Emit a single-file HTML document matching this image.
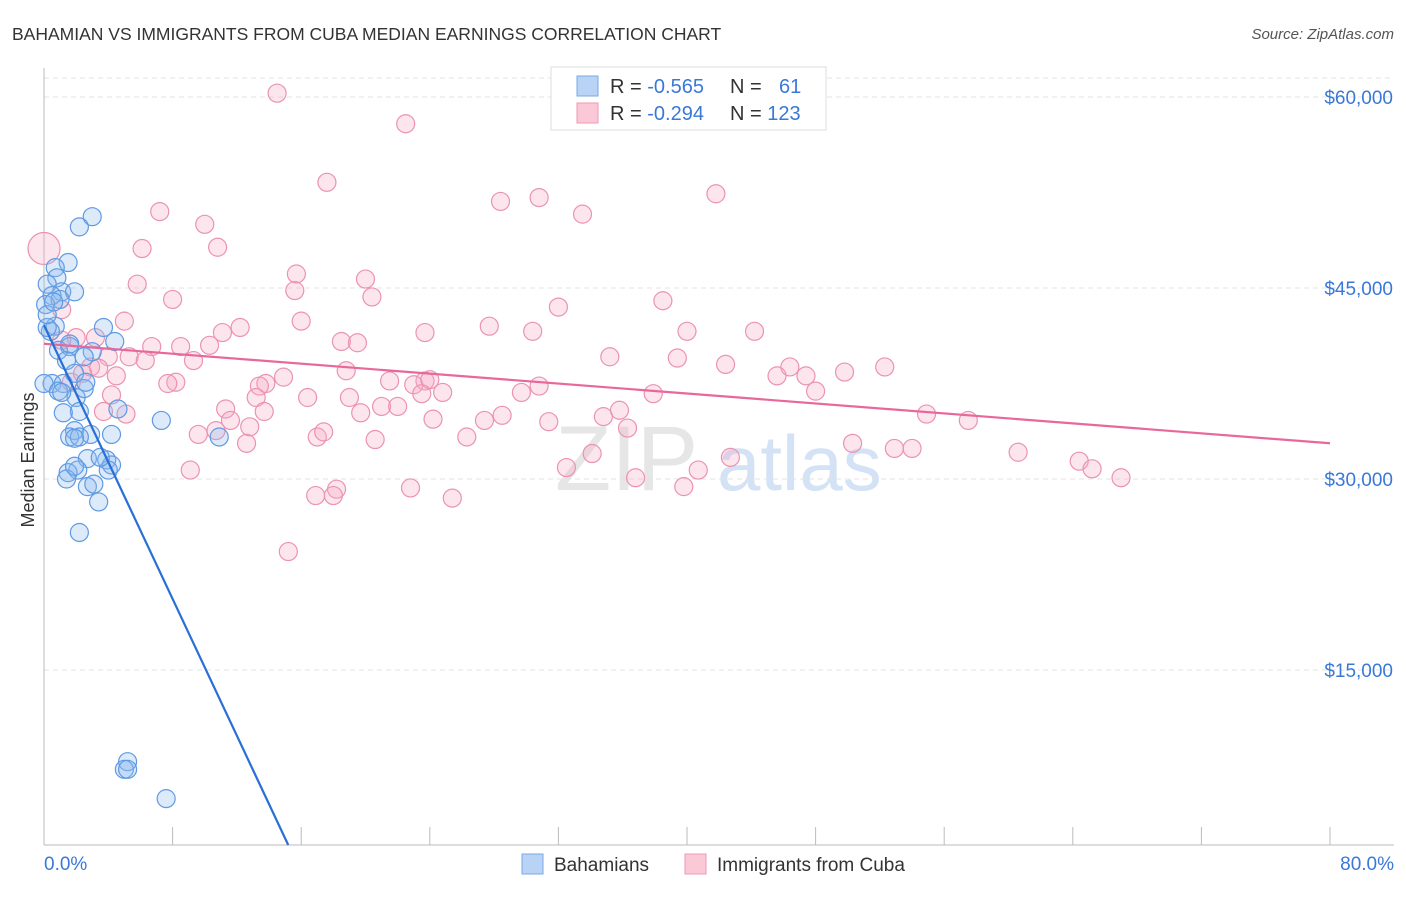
<!DOCTYPE html>
<html><head><meta charset="utf-8"><style>
body{margin:0;background:#fff;font-family:"Liberation Sans",sans-serif}
svg text{font-family:"Liberation Sans",sans-serif}
</style></head><body>
<svg id="c" width="1406" height="892" xmlns="http://www.w3.org/2000/svg">
<text x="12" y="40" font-size="17.5" fill="#333">BAHAMIAN VS IMMIGRANTS FROM CUBA MEDIAN EARNINGS CORRELATION CHART</text>
<text x="1394" y="39" font-size="15" fill="#555" font-style="italic" text-anchor="end">Source: ZipAtlas.com</text>
<text x="34" y="460" font-size="18" fill="#333" text-anchor="middle" transform="rotate(-90 34 460)">Median Earnings</text>
<g><text x="555" y="490" font-size="92" fill="#e6e6e6" font-family="Liberation Serif">ZIP</text><text x="717" y="490" font-size="78" fill="#d3e2f5">atlas</text></g>
<g id="grid"></g><g id="pts"></g><g id="lines"></g>
<g>
<rect x="551" y="67" width="275" height="63" fill="#fff" stroke="#ddd"/>
<rect x="577" y="76" width="21" height="20" fill="#b8d3f5" stroke="#7aa9e6"/>
<rect x="577" y="103" width="21" height="20" fill="#fbc8d8" stroke="#ef9ab5"/>
<text x="610" y="93" font-size="20" fill="#333">R = <tspan fill="#3a78d8">-0.565</tspan></text>
<text x="730" y="93" font-size="20" fill="#333">N = <tspan fill="#3a78d8" x="779">61</tspan></text>
<text x="610" y="120" font-size="20" fill="#333">R = <tspan fill="#3a78d8">-0.294</tspan></text>
<text x="730" y="120" font-size="20" fill="#333">N = <tspan fill="#3a78d8">123</tspan></text>
</g>
<g>
<rect x="522" y="854" width="21" height="20" fill="#b8d3f5" stroke="#7aa9e6"/>
<text x="554" y="871" font-size="19" fill="#333">Bahamians</text>
<rect x="685" y="854" width="21" height="20" fill="#fbc8d8" stroke="#ef9ab5"/>
<text x="717" y="871" font-size="19" fill="#333">Immigrants from Cuba</text>
</g>
<text x="44" y="870" font-size="19" fill="#3a78d8">0.0%</text>
<text x="1394" y="870" font-size="19" fill="#3a78d8" text-anchor="end">80.0%</text>
</svg>
<script>
const blueX=[3.0,2.2,1.5,0.7,0.8,0.2,1.1,1.9,0.5,1.0,0.1,0.7,0.4,3.7,4.4,1.6,0.9,3.0,2.5,1.4,0.5,1.2,0,2.0,2.5,0.9,1.1,4.6,2.2,1.2,7.3,1.9,2.9,1.6,2.2,1.9,4.2,10.9,2.7,3.9,4.2,2.1,1.5,4.0,1.4,2.7,3.1,3.4,2.2,5.2,5.0,5.2,7.6,0.2,0.2,0.6,1.9,2.6,1.6,3.5,1.9];
const blueY=[50600,49800,47000,46600,45800,45300,44700,44700,44400,44100,43700,42000,41600,41900,40800,40400,40100,40000,39600,39300,37500,37500,37500,36400,37100,36900,36800,35500,35300,35200,34600,33800,33500,33300,33300,33200,33500,33300,31600,31500,31100,30700,30500,30700,30000,29400,29600,28200,25800,7800,7200,7200,4900,41900,42900,43900,38300,37600,40600,31700,31000];
const pinkX=[0,14.5,22.5,17.6,41.8,30.8,28.4,33.5,7.2,10.0,10.8,6.1,15.7,20.0,15.6,5.8,8.0,20.4,32.0,38.5,1.1,16.0,5.0,12.2,23.7,27.7,30.4,40.0,44.2,11.1,18.5,19.5,6.7,8.5,10.3,2.0,3.2,4.0,5.3,9.3,6.3,35.2,39.4,42.4,52.3,49.8,46.4,47.4,45.6,18.8,21.5,23.7,23.0,24.0,8.2,7.7,14.9,13.8,13.4,4.5,2.9,3.4,30.8,29.7,24.8,23.5,48.0,37.9,16.4,19.0,4.2,13.2,11.3,21.0,22.0,13.7,19.7,35.8,34.8,5.1,31.4,24.2,28.5,27.4,54.9,57.5,11.6,10.7,12.8,12.6,9.6,17.0,17.4,20.6,26.3,36.3,50.3,52.9,54.0,34.1,42.7,60.6,64.4,65.2,67.0,32.5,40.7,36.8,9.1,39.8,22.8,16.9,18.2,18.0,25.4,15.2,1.1,1.7,3.7,2.4];
const pinkY=[48100,60300,57900,53300,52400,52100,51800,50800,51000,50000,48200,48100,46100,45700,44800,45300,44100,44300,43500,44000,43300,42400,42400,41900,41500,42000,41600,41600,41600,41500,40800,40700,40400,40400,40500,41100,41100,39600,39600,39300,39300,39600,39500,39000,38800,38400,38800,38100,38100,38500,37700,37700,37400,37800,37600,37500,38000,37500,37300,38100,38800,38700,37300,36800,36800,36700,36900,36700,36400,36400,36600,36400,35500,35700,35700,35300,35200,35400,34900,35100,34500,34700,35000,34600,35100,34600,34600,33800,34100,32800,33500,33300,33700,33100,33300,34000,32800,32400,32400,32000,31700,32100,31400,30800,30100,30900,30700,30100,30700,29400,29300,28700,29200,28700,28500,24300,40900,37600,35300,38300];
const yTicks=[15000,30000,45000,60000];
const yTickLabels=["$15,000","$30,000","$45,000","$60,000"];
const xTicks=[0,8,16,24,32,40,48,56,64,72,80];
const X0=44,X1=1330,YB=845,YT=68;
const xs=v=>X0+v/80*(X1-X0);
const ys=v=>861-v/15000*191;
const NS="http://www.w3.org/2000/svg";
function mk(tag,attrs,parent){const e=document.createElementNS(NS,tag);for(const k in attrs)e.setAttribute(k,attrs[k]);parent.appendChild(e);return e;}
const grid=document.getElementById('grid');
let e=mk('line',{x1:X0,x2:1394,y1:78,y2:78,stroke:'#e3e3e3','stroke-dasharray':'5,4'},grid);


yTicks.forEach((t,i)=>{
 const l=mk('line',{x1:X0,x2:1394,y1:ys(t),y2:ys(t),stroke:'#e3e3e3','stroke-dasharray':'5,4'},grid);
 
 
 const tx=mk('text',{x:1393,y:ys(t)+7,'font-size':19,fill:'#3a78d8','text-anchor':'end'},grid);
 tx.textContent=yTickLabels[i];
 
 
});
e=mk('line',{x1:X0,x2:X0,y1:YT,y2:YB,stroke:'#bbb'},grid);


e=mk('line',{x1:X0,x2:1394,y1:YB,y2:YB,stroke:'#bbb'},grid);


xTicks.forEach(t=>{
 const l=mk('line',{x1:xs(t),x2:xs(t),y1:YB,y2:YB-18,stroke:'#bbb'},grid);
 
 
});
const pts=document.getElementById('pts');
pinkX.forEach((x,i)=>{
 const r=i===0?16:9;
 const c=mk('circle',{cx:xs(x),cy:ys(pinkY[i]),r:r,fill:'rgba(248,170,196,0.3)',stroke:'#eb93b0','stroke-width':1.2},pts);
 
 
});
blueX.forEach((x,i)=>{
 const c=mk('circle',{cx:xs(x),cy:ys(blueY[i]),r:9,fill:'rgba(140,185,240,0.3)',stroke:'#5f9ae3','stroke-width':1.2},pts);
 
 
});
function reg(X,Y){const n=X.length;let mx=0,my=0;for(let i=0;i<n;i++){mx+=X[i];my+=Y[i];}mx/=n;my/=n;let sxy=0,sxx=0;for(let i=0;i<n;i++){sxy+=(X[i]-mx)*(Y[i]-my);sxx+=(X[i]-mx)**2;}const b=sxy/sxx;return [my-b*mx,b];}
const lines=document.getElementById('lines');
const [pa,pb]=reg(pinkX,pinkY);
e=mk('line',{x1:xs(0),y1:ys(pa),x2:xs(80),y2:ys(pa+pb*80),stroke:'#e8689a','stroke-width':2.2},lines);


const [ba,bb]=reg(blueX,blueY);
const vB=(861-YB)/191*15000;
let xe=(vB-ba)/bb; if(!(xe>0&&xe<80))xe=80;
e=mk('line',{x1:xs(0),y1:ys(ba),x2:xs(xe),y2:ys(ba+bb*xe),stroke:'#2a6fd6','stroke-width':2.2},lines);


</script>
</body></html>
